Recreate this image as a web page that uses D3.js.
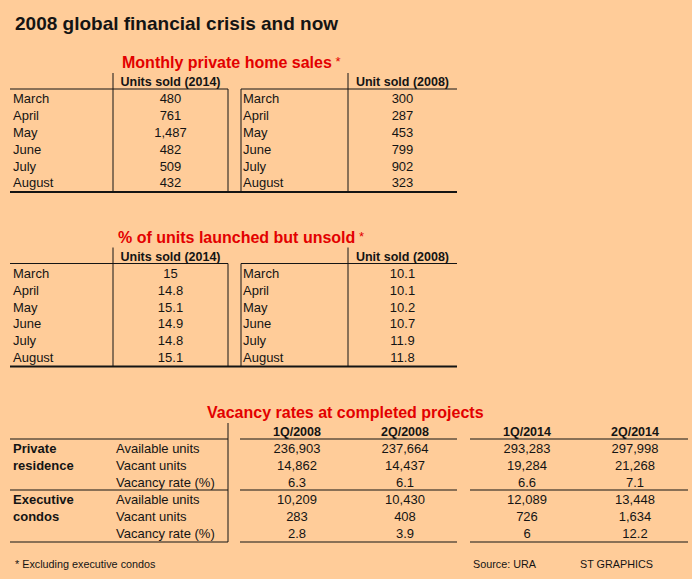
<!DOCTYPE html>
<html>
<head>
<meta charset="utf-8">
<script src="https://cdn.jsdelivr.net/npm/d3@7"></script>
<style>
	body { margin: 0; background: #FFCC99; }
	svg { display: block; font-family: "Liberation Sans", Arial, sans-serif; }
</style>
</head>
<body>
<div id="graphic"></div>
<script>
const months = ['March', 'April', 'May', 'June', 'July', 'August'];
const sales2014 = [480, 761, 1487, 482, 509, 432];
const sales2008 = [300, 287, 453, 799, 902, 323];
const unsold2014 = [15, 14.8, 15.1, 14.9, 14.8, 15.1];
const unsold2008 = [10.1, 10.1, 10.2, 10.7, 11.9, 11.8];

const quarters = ['1Q/2008', '2Q/2008', '1Q/2014', '2Q/2014'];
const groups = [['Private', 'residence'], ['Executive', 'condos']];
const measures = ['Available units', 'Vacant units', 'Vacancy rate (%)'];
const privateValues = [
	[236903, 237664, 293283, 297998],
	[14862, 14437, 19284, 21268],
	[6.3, 6.1, 6.6, 7.1]
];
const execValues = [
	[10209, 10430, 12089, 13448],
	[283, 408, 726, 1634],
	[2.8, 3.9, 6, 12.2]
];

const width = 692, height = 579;
const red = '#E30000';
const ink = '#141414';
const fmt = d3.format(',');

let svg = d3.select('#graphic')
	.append('svg')
	.attr('width', width)
	.attr('height', height);

svg.append('rect')
	.attr('width', width)
	.attr('height', height)
	.attr('fill', '#FFCC99');

svg.append('text')
	.attr('x', 15)
	.attr('y', 30)
	.attr('font-size', 19)
	.attr('font-weight', 'bold')
	.attr('fill', ink)
	.text('2008 global financial crisis and now');

function hLine(g, x1, x2, y, w) {
	g.append('line').attr('x1', x1).attr('x2', x2).attr('y1', y).attr('y2', y)
		.attr('stroke', ink).attr('stroke-width', w || 1);
}
function vLine(g, x, y1, y2) {
	g.append('line').attr('x1', x).attr('x2', x).attr('y1', y1).attr('y2', y2)
		.attr('stroke', ink).attr('stroke-width', 1);
}

function redTitle(g, x, y, txt, star) {
	let t = g.append('text')
		.attr('x', x)
		.attr('y', y)
		.attr('font-size', 16)
		.attr('font-weight', 'bold')
		.attr('fill', red)
		.text(txt);
	if (star) {
		t.append('tspan')
			.attr('font-weight', 'normal')
			.attr('font-size', 13)
			.attr('dy', -2)
			.text(' *');
	}
}

// two side-by-side month tables, top = baseline of the red title
function drawMonthTable(top, title, titleX, values2014, values2008) {
	let g = svg.append('g').attr('transform', `translate(0,${top})`);

	redTitle(g, titleX, 0, title, true);

	const y = d3.scaleBand().domain(months).range([22.5, 123.3]);

	const halves = [
		{ label: 13, col: [113, 228], head: 'Units sold (2014)', values: values2014 },
		{ label: 243, col: [348, 457], head: 'Unit sold (2008)', values: values2008 }
	];

	halves.forEach((h) => {
		const cx = (h.col[0] + h.col[1]) / 2;

		g.append('text')
			.attr('x', cx)
			.attr('y', 18)
			.attr('text-anchor', 'middle')
			.attr('font-size', 12.5)
			.attr('font-weight', 'bold')
			.attr('fill', ink)
			.text(h.head);

		g.selectAll(null)
			.data(months)
			.join('text')
			.attr('x', h.label)
			.attr('y', (d) => y(d) + y.bandwidth() / 2)
			.attr('dy', '0.35em')
			.attr('font-size', 13)
			.attr('fill', ink)
			.text((d) => d);

		g.selectAll(null)
			.data(h.values)
			.join('text')
			.attr('x', cx)
			.attr('y', (d, i) => y(months[i]) + y.bandwidth() / 2)
			.attr('dy', '0.35em')
			.attr('text-anchor', 'middle')
			.attr('font-size', 13)
			.attr('fill', ink)
			.text((d) => fmt(d));
	});

	// rules
	hLine(g, 10, 228, 21);
	hLine(g, 241, 457, 21);
	vLine(g, 113, 5, 124);
	vLine(g, 228, 21, 124);
	vLine(g, 241, 21, 124);
	vLine(g, 348, 5, 124);
	hLine(g, 10, 457, 124, 2.2);
}

drawMonthTable(68, 'Monthly private home sales', 122, sales2014, sales2008);
drawMonthTable(242.5, '% of units launched but unsold', 118, unsold2014, unsold2008);

// vacancy table
let vac = svg.append('g');
redTitle(vac, 207, 418, 'Vacancy rates at completed projects', false);

const rows = groups.flatMap((gr, gi) => measures.map((m, mi) => ({
	group: gi,
	key: gi + '-' + mi,
	groupLabel: gr[mi] || '',
	measure: m,
	values: gi === 0 ? privateValues[mi] : execValues[mi]
})));

const yv = d3.scaleBand().domain(rows.map((d) => d.key)).range([440, 542]);
const xv = d3.scaleOrdinal().domain(quarters).range([297, 405, 527, 635]);

vac.selectAll('.qhead')
	.data(quarters)
	.join('text')
	.attr('class', 'qhead')
	.attr('x', (d) => xv(d))
	.attr('y', 436)
	.attr('text-anchor', 'middle')
	.attr('font-size', 12.5)
	.attr('font-weight', 'bold')
	.attr('fill', ink)
	.text((d) => d);

let rowG = vac.selectAll('.vrow')
	.data(rows)
	.join('g')
	.attr('class', 'vrow')
	.attr('transform', (d) => `translate(0,${yv(d.key) + yv.bandwidth() / 2})`);

rowG.append('text')
	.attr('x', 13)
	.attr('dy', '0.35em')
	.attr('font-size', 13)
	.attr('font-weight', 'bold')
	.attr('fill', ink)
	.text((d) => d.groupLabel);

rowG.append('text')
	.attr('x', 116)
	.attr('dy', '0.35em')
	.attr('font-size', 13)
	.attr('fill', ink)
	.text((d) => d.measure);

rowG.selectAll('.val')
	.data((d) => d.values)
	.join('text')
	.attr('class', 'val')
	.attr('x', (d, i) => xv(quarters[i]))
	.attr('dy', '0.35em')
	.attr('text-anchor', 'middle')
	.attr('font-size', 13)
	.attr('fill', ink)
	.text((d) => fmt(d));

// rules for the vacancy table
[439, 490, 542].forEach((yy) => {
	hLine(vac, 10, 228, yy, 1.2);
	hLine(vac, 240, 457, yy, 1.2);
	hLine(vac, 470, 688, yy, 1.2);
});
vLine(vac, 228, 423, 542);

// footer
const foot = [
	{ x: 15, t: '* Excluding executive condos' },
	{ x: 473, t: 'Source: URA' },
	{ x: 580, t: 'ST GRAPHICS' }
];
svg.selectAll('.foot')
	.data(foot)
	.join('text')
	.attr('class', 'foot')
	.attr('x', (d) => d.x)
	.attr('y', 568)
	.attr('font-size', 10.8)
	.attr('fill', ink)
	.text((d) => d.t);
</script>
</body>
</html>
